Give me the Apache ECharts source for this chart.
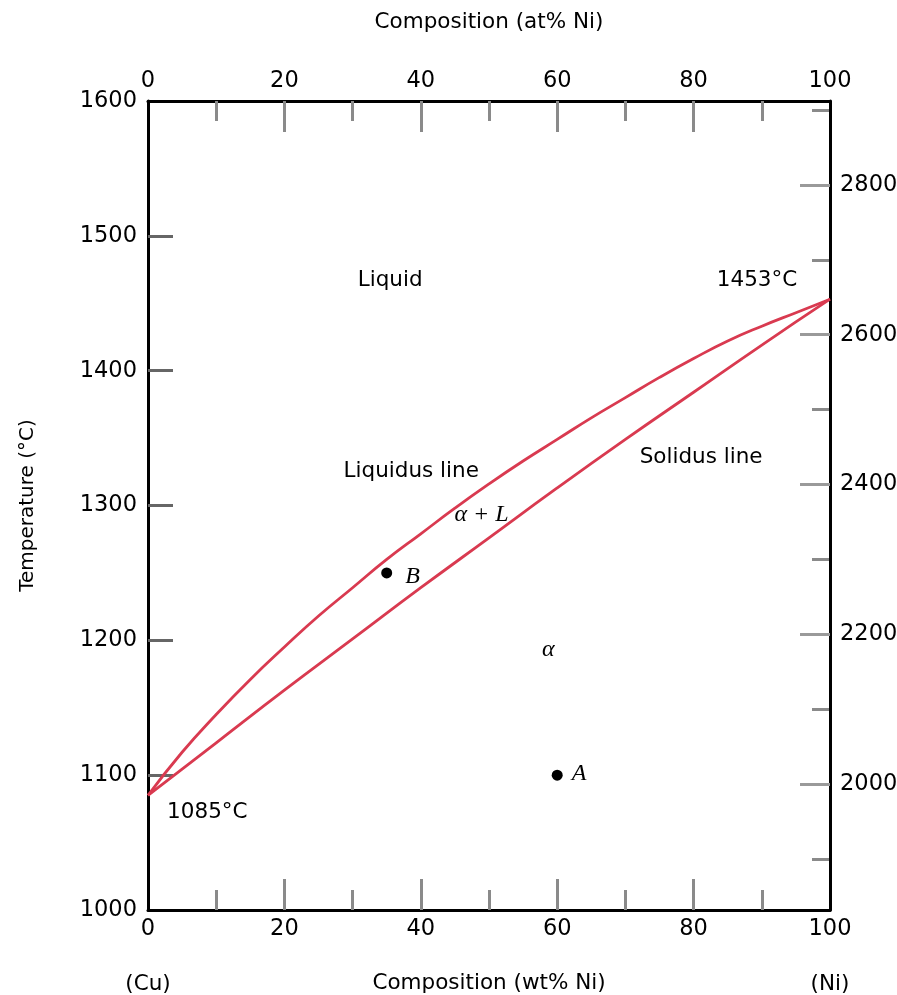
<!DOCTYPE html>
<html>
<head>
<meta charset="utf-8">
<script src="https://cdn.jsdelivr.net/npm/echarts@6/dist/echarts.min.js"></script>
<style>html,body{margin:0;padding:0;background:#fff}#c{width:897px;height:995px}</style>
</head>
<body>
<div id="c"></div>
<script>
// ---- data ----
const liquidusNi = [0, 5, 10, 15, 20, 25, 30, 35, 40, 45, 50, 55, 60, 65, 70, 75, 80, 85, 90, 95, 100];
const liquidusT  = [1085, 1117, 1145, 1171, 1195, 1218, 1239, 1260, 1279, 1298, 1316, 1333, 1349, 1365, 1380, 1395, 1409, 1422, 1433, 1443, 1453];
const solidusNi  = [0, 10, 20, 30, 40, 50, 60, 70, 80, 90, 100];
const solidusT   = [1085, 1124, 1163, 1201, 1239, 1276, 1313, 1349, 1384, 1419, 1453];
const pointNames = ['A', 'B'];
const pointNi    = [60, 35];
const pointT     = [1100, 1250];
const yTicksC    = [1000, 1100, 1200, 1300, 1400, 1500, 1600];
const yInnerC    = [1100, 1200, 1300, 1400, 1500];
const yLabelsF   = [2000, 2200, 2400, 2600, 2800];
const yMinorF    = [1900, 2100, 2300, 2500, 2700, 2900];
const textNotes  = [
  ['Liquid', 35.5, 1467],
  ['1453°C', 89.3, 1467],
  ['Liquidus line', 38.6, 1325],
  ['Solidus line', 81.1, 1336],
  ['1085°C', 8.7, 1072]
];
const italicNotes = [
  ['α + L', 48.9, 1293],
  ['α', 58.7, 1193],
  ['A', 63.2, 1101],
  ['B', 38.8, 1247]
];

// ---- build ----
const c2f = c => c * 9 / 5 + 32;
const FONT = 'DejaVu Sans';
const txt = '#000';
const TICKF = 22.5;
const NOTEF = 21.5;
const chart = echarts.init(document.getElementById('c'));
const pairs = (xs, ys) => xs.map((x, i) => [x, ys[i]]);
const gridBox = { left: 148, right: 67, top: 101, bottom: 85, containLabel: false, outerBoundsMode: 'none' };
const frameLine = { show: true, onZero: false, lineStyle: { color: '#000', width: 3 } };

const xBase = {
  gridIndex: 0, type: 'value', min: 0, max: 100, interval: 20, z: 2,
  axisLine: frameLine,
  axisTick: { show: true, inside: true, length: 31, lineStyle: { color: '#8a8a8a', width: 3 } },
  minorTick: { show: true, splitNumber: 2, length: 20, lineStyle: { color: '#8a8a8a', width: 3 } },
  splitLine: { show: false },
  axisLabel: { color: txt, fontFamily: FONT, fontSize: TICKF, margin: 8, formatter: v => String(v) },
  nameLocation: 'middle', nameMoveOverlap: false,
  nameTextStyle: { color: txt, fontFamily: FONT, fontSize: NOTEF }
};

const option = {
  animation: false,
  backgroundColor: '#fff',
  grid: [Object.assign({}, gridBox), Object.assign({}, gridBox)],
  xAxis: [
    Object.assign({}, xBase, { position: 'bottom' }),
    Object.assign({}, xBase, { position: 'top', name: 'Composition (at% Ni)', nameGap: 68 }),
    {
      gridIndex: 0, type: 'value', min: 0, max: 100, position: 'bottom', offset: 55,
      axisLine: { show: false, onZero: false }, axisTick: { show: false }, splitLine: { show: false },
      axisLabel: { show: true, color: txt, fontFamily: FONT, fontSize: NOTEF, margin: 8,
                   customValues: [0, 100],
                   formatter: v => v === 0 ? '(Cu)' : (v === 100 ? '(Ni)' : '') },
      name: 'Composition (wt% Ni)', nameLocation: 'middle', nameGap: 7, nameMoveOverlap: false,
      nameTextStyle: { color: txt, fontFamily: FONT, fontSize: NOTEF }
    },
    {
      gridIndex: 1, type: 'value', min: 0, max: 100, show: false,
      axisLine: { show: false, onZero: false }
    }
  ],
  yAxis: [
    {
      gridIndex: 0, type: 'value', min: 1000, max: 1600, interval: 100, position: 'left', z: 3,
      axisLine: frameLine,
      axisTick: { show: true, inside: true, length: 25, customValues: yInnerC,
                  lineStyle: { color: '#666', width: 3 } },
      splitLine: { show: false },
      axisLabel: { color: txt, fontFamily: FONT, fontSize: TICKF, margin: 11, customValues: yTicksC,
                   formatter: v => String(v) },
      name: 'Temperature (°C)', nameLocation: 'middle', nameGap: 110, nameRotate: 90, nameMoveOverlap: false,
      nameTextStyle: { color: txt, fontFamily: FONT, fontSize: 20 }
    },
    {
      gridIndex: 0, type: 'value', min: c2f(1000), max: c2f(1600), position: 'right', z: 3,
      axisLine: frameLine,
      axisTick: { show: true, inside: true, length: 30, customValues: yLabelsF,
                  lineStyle: { color: '#9a9a9a', width: 3 } },
      splitLine: { show: false },
      axisLabel: { color: txt, fontFamily: FONT, fontSize: TICKF, margin: 10, customValues: yLabelsF,
                   formatter: v => String(v) }
    },
    {
      gridIndex: 1, type: 'value', min: c2f(1000), max: c2f(1600), position: 'right', z: 1,
      axisLine: { show: false, onZero: false },
      axisTick: { show: true, inside: true, length: 18, customValues: yMinorF,
                  lineStyle: { color: '#8a8a8a', width: 3 } },
      splitLine: { show: false },
      axisLabel: { show: false }
    }
  ],
  series: [
    { name: 'Liquidus', type: 'line', smooth: 0.5, showSymbol: false,
      data: pairs(liquidusNi, liquidusT), lineStyle: { color: '#d93a50', width: 2.8 }, z: 5 },
    { name: 'Solidus', type: 'line', smooth: 0.5, showSymbol: false,
      data: pairs(solidusNi, solidusT), lineStyle: { color: '#d93a50', width: 2.8 }, z: 5 },
    { name: 'Points', type: 'scatter', symbolSize: 11,
      data: pairs(pointNi, pointT).map((p, i) => ({ value: p, name: pointNames[i] })),
      itemStyle: { color: '#000', opacity: 1 }, z: 6 },
    { name: 'Notes', type: 'scatter', symbolSize: 0, z: 7, itemStyle: { opacity: 1 },
      data: textNotes.map(n => ({ value: [n[1], n[2]], name: n[0] })),
      label: { show: true, position: [0, 0], align: 'center', verticalAlign: 'middle',
               formatter: p => p.name, color: txt, fontFamily: FONT, fontSize: NOTEF } },
    { name: 'ItalicNotes', type: 'scatter', symbolSize: 0, z: 7, itemStyle: { opacity: 1 },
      data: italicNotes.map(n => ({ value: [n[1], n[2]], name: n[0] })),
      label: { show: true, position: [0, 0], align: 'center', verticalAlign: 'middle',
               formatter: p => p.name, color: txt, fontFamily: 'Liberation Serif',
               fontStyle: 'italic', fontSize: 24 } }
  ]
};
chart.setOption(option);
</script>
</body>
</html>
